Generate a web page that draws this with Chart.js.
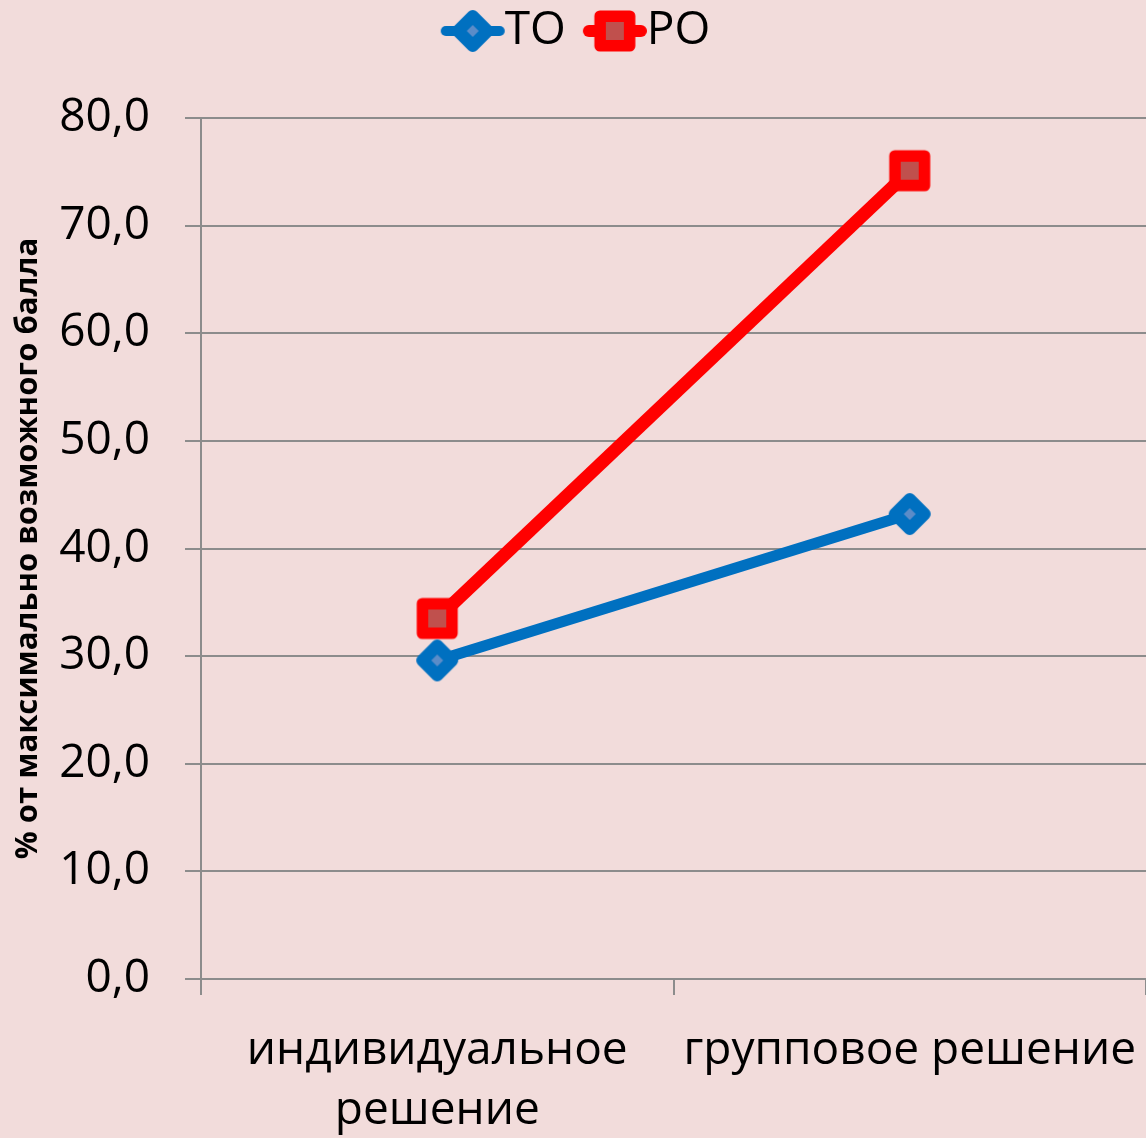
<!DOCTYPE html>
<html>
<head>
<meta charset="utf-8">
<script src="https://cdn.jsdelivr.net/npm/chart.js@4"></script>
<style>
  html, body { margin: 0; padding: 0; background: #f2dcdb; }
  #wrap { width: 1146px; height: 1138px; }
</style>
</head>
<body>
<div id="wrap"><canvas id="chart" width="1146" height="1138"></canvas></div>
<script>
// Data
const categories = [['индивидуальное', 'решение'], 'групповое решение'];
const seriesNames = ['ТО', 'РО'];
const toValues = [29.6, 43.2];
const roValues = [33.5, 75.1];
const yTicks = { min: 0, max: 80, step: 10 };
const yTitle = '% от максимально возможного балла';

const BLUE = '#0070c0';
const RED = '#ff0000';
const GRID = '#8c8c8c';
const LEGEND_SHIFT = 28; // empty room left of legend markers so they sit next to their text

// marker images (optionally with a short line through them for the legend)
function markerCanvas(lineLen) {
    const c = document.createElement('canvas');
    const extra = lineLen ? LEGEND_SHIFT : 0;
    c.width = (lineLen ? lineLen + 12 : 46) + extra;
    c.height = 46;
    return { c, g: c.getContext('2d'), cx: extra + (c.width - extra) / 2, cy: 23 };
}

function diamondMarker(lineLen) {
    const { c, g, cx, cy } = markerCanvas(lineLen);
    if (lineLen) {
        g.strokeStyle = BLUE; g.lineWidth = 10; g.lineCap = 'round';
        g.beginPath(); g.moveTo(cx - lineLen / 2, cy); g.lineTo(cx + lineLen / 2, cy); g.stroke();
    }
    g.fillStyle = BLUE; g.strokeStyle = BLUE; g.lineWidth = 12; g.lineJoin = 'round';
    g.beginPath();
    g.moveTo(cx, cy - 15); g.lineTo(cx + 15, cy); g.lineTo(cx, cy + 15); g.lineTo(cx - 15, cy);
    g.closePath(); g.fill(); g.stroke();
    g.fillStyle = '#5b8cc8';
    g.beginPath();
    g.moveTo(cx, cy - 6); g.lineTo(cx + 6, cy); g.lineTo(cx, cy + 6); g.lineTo(cx - 6, cy);
    g.closePath(); g.fill();
    return c;
}

function squareMarker(lineLen) {
    const { c, g, cx, cy } = markerCanvas(lineLen);
    if (lineLen) {
        g.strokeStyle = RED; g.lineWidth = 12; g.lineCap = 'round';
        g.beginPath(); g.moveTo(cx - lineLen / 2, cy); g.lineTo(cx + lineLen / 2, cy); g.stroke();
    }
    g.fillStyle = RED; g.strokeStyle = RED; g.lineWidth = 11; g.lineJoin = 'round';
    g.beginPath(); g.rect(cx - 15, cy - 15, 30, 30); g.fill(); g.stroke();
    g.fillStyle = '#c0504d';
    g.fillRect(cx - 9, cy - 9, 18, 18);
    return c;
}

const pointMarkers = [diamondMarker(0), squareMarker(0)];
const legendMarkers = [diamondMarker(54), squareMarker(52)];

Chart.defaults.font.family = "'Open Sans', sans-serif";
Chart.defaults.color = '#000';

new Chart(document.getElementById('chart'), {
    type: 'line',
    data: {
        labels: categories,
        datasets: [
            {
                label: seriesNames[0],
                data: toValues,
                xAxisID: 'x',
                borderColor: BLUE,
                backgroundColor: BLUE,
                borderWidth: 11,
                pointStyle: pointMarkers[0],
                pointRadius: 20,
                tension: 0
            },
            {
                label: seriesNames[1],
                data: roValues,
                xAxisID: 'x',
                borderColor: RED,
                backgroundColor: RED,
                borderWidth: 13,
                pointStyle: pointMarkers[1],
                pointRadius: 20,
                tension: 0
            }
        ]
    },
    options: {
        responsive: false,
        devicePixelRatio: 1,
        animation: false,
        layout: { autoPadding: false, padding: { top: -4, left: 0, right: 0, bottom: 0 } },
        plugins: {
            tooltip: { enabled: false },
            legend: {
                position: 'top',
                labels: {
                    usePointStyle: true,
                    pointStyleWidth: 18 + LEGEND_SHIFT,
                    padding: 12,
                    font: { size: 46 },
                    generateLabels: chart => chart.data.datasets.map((ds, i) => ({
                        text: ds.label,
                        pointStyle: legendMarkers[i],
                        fillStyle: ds.borderColor,
                        strokeStyle: ds.borderColor,
                        lineWidth: 0,
                        hidden: false,
                        datasetIndex: i
                    }))
                }
            }
        },
        scales: {
            x: {
                offset: true,
                grid: {
                    offset: true,
                    drawOnChartArea: false,
                    // the last tick mark falls on the picture's right edge and is not seen there
                    color: ctx => ctx.index === categories.length ? 'rgba(0,0,0,0)' : GRID,
                    lineWidth: 2,
                    tickLength: 16
                },
                border: { color: GRID, width: 2 },
                ticks: { font: { size: 46, lineHeight: 1.3 }, padding: 26, maxRotation: 0, autoSkip: false },
                afterFit: s => {
                    s.height = 159;
                    // labels sit in the middle of their category, they do not need extra room
                    s.paddingLeft = 0;
                    s.paddingRight = 0;
                }
            },
            xTop: {
                type: 'category',
                position: 'top',
                grid: { display: false },
                border: { display: false },
                ticks: { display: false },
                afterFit: s => { s.height = 54; }
            },
            y: {
                min: yTicks.min,
                max: yTicks.max,
                grid: { color: GRID, lineWidth: 2, tickLength: 16 },
                border: { color: GRID, width: 2 },
                ticks: {
                    stepSize: yTicks.step,
                    font: { size: 46 },
                    padding: 35,
                    callback: v => v.toFixed(1).replace('.', ',')
                },
                title: {
                    display: true,
                    text: yTitle,
                    font: { size: 31, weight: 'bold' },
                    padding: { top: 10, bottom: 0 }
                },
                afterFit: s => { s.width = 201; }
            }
        }
    }
});
</script>
</body>
</html>
